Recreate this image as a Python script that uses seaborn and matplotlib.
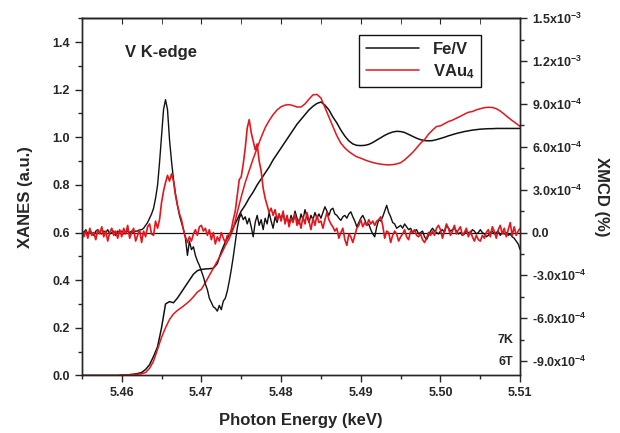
import numpy as np
import matplotlib
matplotlib.use('Agg')
import matplotlib.pyplot as plt
from matplotlib.ticker import MultipleLocator, FixedLocator
import seaborn as sns

# XANES (left axis), sampled every 0.0005 keV from 5.455 keV
fev_xanes = [
    0, 0, 0, 0, 0, 0, 0, 0, 0, 0,
    0.001, 0.002, 0.003, 0.005, 0.008, 0.012, 0.025, 0.045, 0.08, 0.12,
    0.20, 0.30, 0.31, 0.305, 0.325, 0.35, 0.375, 0.40, 0.425, 0.44,
    0.445, 0.447, 0.448, 0.45, 0.47, 0.52, 0.56, 0.59, 0.62, 0.655,
    0.69, 0.715, 0.745, 0.77, 0.80, 0.825, 0.85, 0.875, 0.905, 0.93,
    0.955, 0.98, 1.005, 1.03, 1.055, 1.075, 1.095, 1.115, 1.13, 1.142,
    1.148, 1.135, 1.115, 1.085, 1.06, 1.03, 1.005, 0.985, 0.972, 0.966,
    0.965, 0.966, 0.97, 0.978, 0.988, 0.998, 1.008, 1.016, 1.022, 1.025,
    1.024, 1.02, 1.012, 1.004, 0.996, 0.99, 0.986, 0.985, 0.986, 0.99,
    0.995, 1.0, 1.006, 1.011, 1.016, 1.02, 1.024, 1.027, 1.03, 1.032,
    1.034, 1.035, 1.036, 1.036, 1.037, 1.037, 1.037, 1.037, 1.037, 1.037,
    1.037,
]
vau4_xanes = [
    0, 0, 0, 0, 0, 0, 0, 0, 0, 0,
    0.001, 0.002, 0.003, 0.004, 0.005, 0.007, 0.012, 0.03, 0.06, 0.11,
    0.16, 0.20, 0.235, 0.258, 0.273, 0.285, 0.298, 0.312, 0.33, 0.35,
    0.362, 0.39, 0.42, 0.45, 0.48, 0.51, 0.545, 0.575, 0.615, 0.685,
    0.75, 0.81, 0.86, 0.91, 0.955, 1.0, 1.04, 1.07, 1.095, 1.115,
    1.128, 1.135, 1.137, 1.133, 1.127, 1.127, 1.14, 1.16, 1.178, 1.18,
    1.165, 1.125, 1.085, 1.045, 1.006, 0.975, 0.955, 0.94, 0.928, 0.918,
    0.912, 0.905, 0.899, 0.894, 0.89, 0.887, 0.885, 0.884, 0.885, 0.888,
    0.893, 0.905, 0.92, 0.936, 0.955, 0.975, 0.99, 1.013, 1.03, 1.045,
    1.048, 1.057, 1.066, 1.072, 1.08, 1.088, 1.097, 1.105, 1.108, 1.115,
    1.12, 1.124, 1.126, 1.125, 1.12, 1.11, 1.097, 1.083, 1.07, 1.058,
    1.045,
]

# XMCD (right axis) in units of 1e-4, sampled every 0.00025 keV from 5.455 keV
fev_xmcd = [
    0.1, 0.0, 0.2, -0.1, 0.1, 0.0, -0.2, 0.1, 0.2, 0.0, -0.1, 0.1, 0.0, 0.2, -0.1, 0.0, 0.1, -0.2, 0.1, 0.0,
    0.1, -0.1, 0.0, 0.1, 0.0, 0.1, 0.0, 0.1, 0.1, 0.2, 0.2, 0.3, 0.5, 0.7, 1.0, 1.3, 1.7, 2.4, 3.3, 4.9,
    6.8, 8.6, 9.3, 8.6, 6.5, 5.0, 3.7, 2.7, 1.9, 1.2, 0.7, 0.2, -0.4, -1.6, -0.6, -1.2, -1.0, -1.6, -2.0, -2.3,
    -2.7, -3.1, -3.6, -4.0, -4.6, -4.9, -5.2, -5.3, -5.5, -5.1, -5.4, -4.8, -4.6, -4.1, -3.4, -2.6, -1.7, -0.7, 0.3, 1.0,
    1.3, 0.9, 1.1, 0.6, 1.0, 0.4, -0.3, 0.7, 1.2, 0.5, 0.9, 0.2, 1.0, 0.6, 1.4, 0.8, 0.3, 1.1, 0.7, 1.3,
    0.9, 1.4, 0.7, 1.1, 0.6, 1.2, 0.8, 1.5, 1.0, 0.6, 1.3, 0.9, 1.6, 1.1, 0.7, 1.2, 0.9, 1.4, 1.0, 1.3,
    1.0, 1.4, 1.8, 1.5, 1.2, 1.6, 1.7, 1.3, 1.2, 1.0, 0.85, 1.1, 1.2, 1.0, 1.3, 1.45, 1.1, 0.8, 0.4, 0.7,
    1.0, 1.2, 0.9, 0.5, 0.6, 0.2, -0.1, -0.3, 0.4, 0.9, 0.8, 1.1, 1.5, 1.9, 1.4, 1.1, 0.7, 0.6, 0.3, 0.4,
    0.5, 0.3, 0.6, 0.4, 0.2, 0.3, 0.0, 0.1, 0.2, -0.1, 0.0, 0.1, -0.3, -0.5, -0.2, 0.1, 0.3, 0.1, 0.0, -0.1,
    0.1, 0.2, 0.0, 0.5, 0.3, 0.1, 0.2, 0.3, 0.1, -0.1, 0.0, -0.2, -0.1, 0.1, 0.0, -0.1, 0.2, 0.1, -0.1, 0.0,
    0.2, 0.0, -0.1, -0.3, -0.2, 0.0, 0.1, -0.1, 0.0, 0.1, -0.2, 0.0, -0.1, 0.0, -0.2, -0.1, -0.3, -0.4, -0.6, -0.8,
    -1.2,
]
vau4_xmcd = [
    0.2, -0.3, 0.1, -0.4, 0.3, -0.2, 0.0, -0.5, 0.2, -0.1, 0.4, -0.3, 0.1, -0.6, 0.0, 0.3, -0.2, 0.1, -0.4, 0.2,
    -0.3, 0.3, -0.1, 0.5, -0.4, 0.0, 0.3, -0.6, -0.2, 0.2, -0.7, 0.1, -0.3, 0.4, 0.6, -0.1, -0.2, 0.8, 0.3, 0.9,
    2.1, 2.9, 3.5, 4.0, 3.6, 4.1, 3.6, 2.6, 1.9, 1.3, 0.9, 0.2, -0.3, -0.7, -0.3, -0.6, -0.1, 0.2, -0.2, 0.4,
    0.5, 0.1, 0.3, -0.2, 0.2, -0.5, 0.0, -0.8, -0.3, -0.6, 0.0, -0.4, -0.7, -0.2, -0.2, 0.2, 0.9, 1.5, 2.6, 3.7,
    3.9, 4.8, 5.9, 7.3, 7.9, 7.0, 6.4, 5.8, 6.2, 5.0, 4.3, 3.1, 2.4, 1.9, 1.4, 1.7, 1.2, 1.6, 0.9, 1.3,
    0.8, 1.5, 0.6, 1.2, 0.4, 1.0, 0.7, 1.3, 0.5, 0.9, 0.3, 1.1, 0.6, 1.4, 0.8, 0.2, 1.0, 0.5, 1.2, 0.7,
    0.8, 0.3, 0.9, 1.4, 0.9, 0.6, 0.4, 0.1, 0.3, -0.4, 0.0, 0.3, -0.5, -0.9, -0.1, -0.3, -0.7, -0.2, 0.3, 0.5,
    0.9, 0.4, 0.7, 0.5, 0.9, 0.6, 0.8, 0.5, 0.8, 0.9, 1.1, 0.5, -0.4, 0.1, 0.0, -0.7, -0.2, 0.1, -0.1, -0.6,
    -0.3, -0.1, 0.2, -0.3, -0.5, 0.1, 0.0, 0.2, -0.2, -0.3, -0.1, -0.5, -0.7, -0.4, 0.0, -0.2, 0.1, -0.2, 0.3, 0.5,
    0.2, -0.4, 0.1, 0.6, 0.3, -0.2, 0.1, 0.5, -0.1, 0.2, 0.4, -0.2, 0.0, 0.3, -0.3, 0.1, -0.3, -0.6, -0.2, -0.5,
    -0.6, -0.2, -0.4, 0.0, 0.2, -0.3, 0.4, 0.1, -0.4, 0.2, 0.5, -0.1, 0.3, -0.3, 0.2, 0.7, -0.2, 0.4, -0.2, 0.1,
    0.3,
]

e_start = 5.455
xanes_energy = e_start + 0.0005 * np.arange(len(fev_xanes))
xmcd_energy = e_start + 0.00025 * np.arange(len(fev_xmcd))

xmcd_ticks = [-9e-4, -6e-4, -3e-4, 0.0, 3e-4, 6e-4, 9e-4, 1.2e-3, 1.5e-3]
xmcd_ticklabels = ['-9.0x10$^{-4}$', '-6.0x10$^{-4}$', '-3.0x10$^{-4}$', '0.0',
                   '3.0x10$^{-4}$', '6.0x10$^{-4}$', '9.0x10$^{-4}$',
                   '1.2x10$^{-3}$', '1.5x10$^{-3}$']

black = '#111111'
red = '#e4161c'

sns.set_style('ticks')
plt.rcParams['font.family'] = ['Liberation Sans', 'DejaVu Sans']
plt.rcParams['font.weight'] = 'bold'
plt.rcParams['mathtext.fontset'] = 'custom'
plt.rcParams['mathtext.rm'] = 'Liberation Sans:bold'
plt.rcParams['mathtext.default'] = 'rm'
plt.rcParams['axes.linewidth'] = 1.0

fig = plt.figure(figsize=(6.2, 4.33), dpi=100)
ax = fig.add_axes([0.132, 0.133, 0.707, 0.825])
ax2 = ax.twinx()

sns.lineplot(x=xanes_energy, y=fev_xanes, ax=ax, color=black, lw=1.1, label='Fe/V')
sns.lineplot(x=xanes_energy, y=vau4_xanes, ax=ax, color=red, lw=1.1, label='VAu$_4$')

ax2.axhline(0, color=black, lw=0.9)
sns.lineplot(x=xmcd_energy, y=np.array(fev_xmcd) * 1e-4, ax=ax2, color=black, lw=1.0)
sns.lineplot(x=xmcd_energy, y=np.array(vau4_xmcd) * 1e-4, ax=ax2, color=red, lw=1.2)

ax.set_xlim(5.455, 5.51)
ax.set_ylim(0, 1.5)
ax2.set_ylim(-1.0e-3, 1.5e-3)

ax.set_xticks(np.arange(5.46, 5.5101, 0.01))
ax.set_xticklabels([f'{v:.2f}' for v in np.arange(5.46, 5.5101, 0.01)])
ax.xaxis.set_minor_locator(MultipleLocator(0.005))
ax.set_yticks(np.arange(0, 1.41, 0.2))
ax.set_yticklabels([f'{v:.1f}' for v in np.arange(0, 1.41, 0.2)])
ax.yaxis.set_minor_locator(MultipleLocator(0.1))
ax2.yaxis.set_major_locator(FixedLocator(xmcd_ticks))
ax2.set_yticklabels(xmcd_ticklabels)
ax2.yaxis.set_minor_locator(MultipleLocator(1.5e-4))

ax.tick_params(axis='both', which='major', direction='out', length=5, width=1, labelsize=9)
ax.tick_params(axis='both', which='minor', direction='out', length=3, width=1)
ax2.tick_params(axis='y', which='major', direction='out', length=5, width=1, labelsize=9)
ax2.tick_params(axis='y', which='minor', direction='out', length=3, width=1)

top = ax.secondary_xaxis('top')
top.set_xticks(np.arange(5.46, 5.5101, 0.01))
top.xaxis.set_minor_locator(MultipleLocator(0.005))
top.tick_params(which='both', direction='in', length=4, labeltop=False)

ax.set_xlabel('Photon Energy (keV)', fontsize=12, fontweight='bold', labelpad=10)
ax.set_ylabel('XANES (a.u.)', fontsize=12, fontweight='bold', labelpad=14)
ax2.set_ylabel('XMCD (%)', fontsize=12, fontweight='bold', rotation=270, labelpad=16)

ax.text(0.098, 0.905, 'V K-edge', transform=ax.transAxes, fontsize=12,
        fontweight='bold', ha='left', va='center')
ax.text(0.984, 0.10, '7K', transform=ax.transAxes, fontsize=9,
        fontweight='bold', ha='right', va='center')
ax.text(0.984, 0.037, '6T', transform=ax.transAxes, fontsize=9,
        fontweight='bold', ha='right', va='center')

leg = ax.legend(loc='upper left', bbox_to_anchor=(0.614, 0.975), fontsize=12,
                frameon=True, fancybox=False, framealpha=1, edgecolor=black,
                handlelength=3.2, borderpad=0.4, labelspacing=0.3)
leg.get_frame().set_linewidth(1.0)
if ax2.get_legend() is not None:
    ax2.get_legend().remove()

fig.savefig('out.png', dpi=100)
